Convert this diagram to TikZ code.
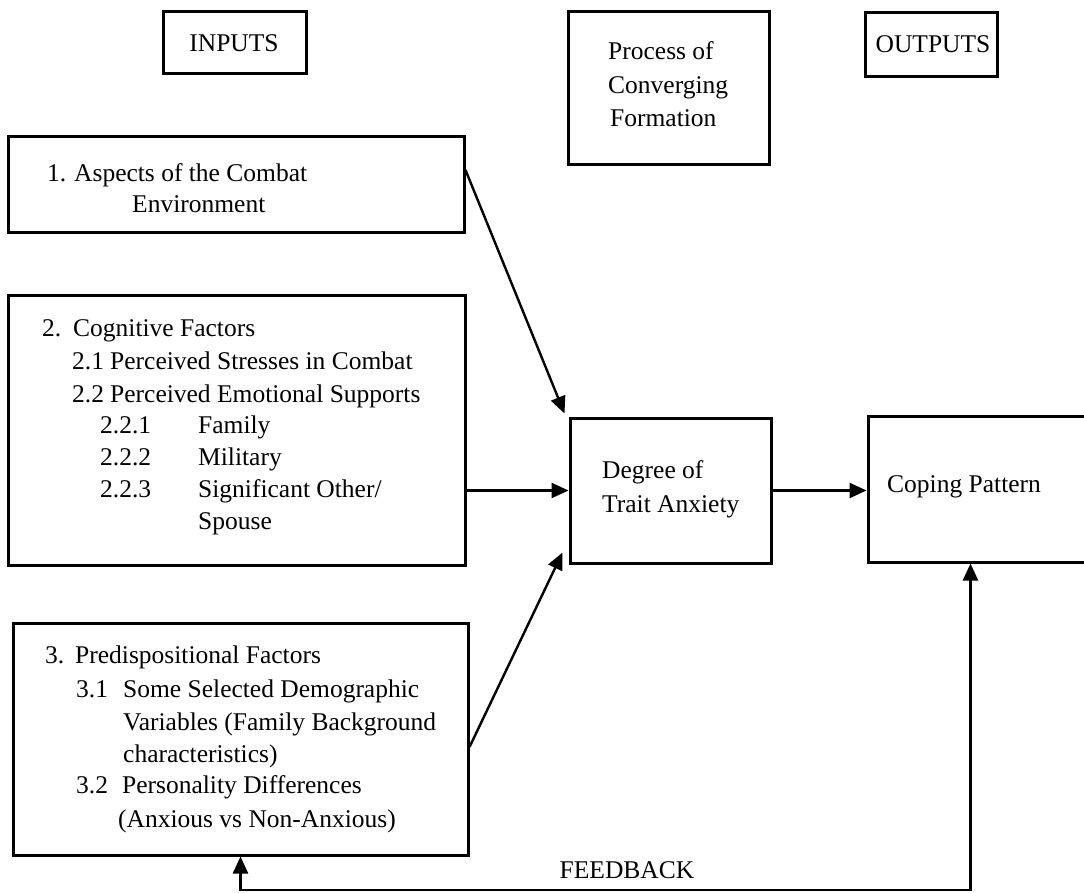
\documentclass[tikz,border=0pt]{standalone}
\usepackage{fontspec}
\setmainfont{Liberation Serif}
\usetikzlibrary{arrows.meta}
\tikzset{
  box/.style={draw, line width=3pt, inner sep=0pt, rectangle},
  txt/.style={inner sep=0pt, anchor=base west, font=\fontsize{25.5}{33}\selectfont},
  ctxt/.style={txt, anchor=base},
  arr/.style={line width=2.4pt, -{Triangle[length=17pt,width=15pt]}},
  dblarr/.style={line width=2.4pt, {Triangle[length=17pt,width=15pt]}-{Triangle[length=17pt,width=15pt]}},
}
\begin{document}
\begin{tikzpicture}[x=1pt,y=-1pt]
\useasboundingbox (0,0) rectangle (1084,893);
\fill[white] (0,0) rectangle (1084,893);
\clip (0,0) rectangle (1084,893);

% header boxes
\node[box, minimum width=143pt, minimum height=62pt] (inputs) at (234.5,43) {};
\node[ctxt] (tin) at (234,52) {INPUTS};
\node[box, minimum width=201pt, minimum height=153pt] (process) at (668.5,88.5) {};
\node[txt] (tp1) at (608,60) {Process of};
\node[txt] (tp2) at (608,94) {Converging};
\node[txt] (tp3) at (610,127) {Formation};
\node[box, minimum width=132pt, minimum height=64pt] (outputs) at (931,45) {};
\node[ctxt] (tout) at (933,53) {OUTPUTS};

% input boxes
\node[box, minimum width=456pt, minimum height=96pt] (b1) at (236,185) {};
\node[txt] (t11) at (47,182) {\makebox[27pt][l]{1.}Aspects of the Combat};
\node[txt] (t12) at (132,213) {Environment};

\node[box, minimum width=457pt, minimum height=269pt] (b2) at (236.5,430.5) {};
\node[txt] (t21) at (42,336) {\makebox[31pt][l]{2.}Cognitive Factors};
\node[txt] (t22) at (72,369) {\makebox[38pt][l]{2.1}Perceived Stresses in Combat};
\node[txt] (t23) at (72,402) {\makebox[38pt][l]{2.2}Perceived Emotional Supports};
\node[txt] (t24) at (100,433) {\makebox[98pt][l]{2.2.1}Family};
\node[txt] (t25) at (100,465) {\makebox[98pt][l]{2.2.2}Military};
\node[txt] (t26) at (100,497) {\makebox[98pt][l]{2.2.3}Significant Other/};
\node[txt] (t27) at (198,529) {Spouse};

\node[box, minimum width=455pt, minimum height=232pt] (b3) at (240.5,739) {};
\node[txt] (t31) at (45,663) {\makebox[30pt][l]{3.}Predispositional Factors};
\node[txt] (t32) at (76,697) {\makebox[47pt][l]{3.1}Some Selected Demographic};
\node[txt] (t33) at (123,730) {Variables (Family Background};
\node[txt] (t34) at (123,762) {characteristics)};
\node[txt] (t35) at (76,793) {\makebox[46pt][l]{3.2}Personality Differences};
\node[txt] (t36) at (118,827) {(Anxious vs Non-Anxious)};

% process and output boxes
\node[box, minimum width=201pt, minimum height=145pt] (deg) at (670.5,490.5) {};
\node[txt] (td1) at (602,478) {Degree of};
\node[txt] (td2) at (602,512) {Trait Anxiety};
\node[box, minimum width=232pt, minimum height=146pt] (cop) at (984,489) {};
\node[txt] (tc) at (887,492) {Coping Pattern};

% connectors
\draw[arr] ([yshift=15pt]b1.east) -- ([xshift=-4pt,yshift=3pt]deg.north west);
\draw[arr] (deg.west -| b2.east) -- (deg.west);
\draw[arr] ([yshift=-8pt]b3.east) -- ([xshift=-6pt,yshift=12pt]deg.south west);
\draw[arr] (deg.east) -- (deg.east -| cop.west);

\coordinate (fb) at (0,890);
\coordinate (cs) at ([xshift=104pt]cop.south west);
\draw[dblarr] (b3.south) |- (cs |- fb) -- (cs);
\node[ctxt] (tfb) at (627,878) {FEEDBACK};
\end{tikzpicture}
\end{document}
